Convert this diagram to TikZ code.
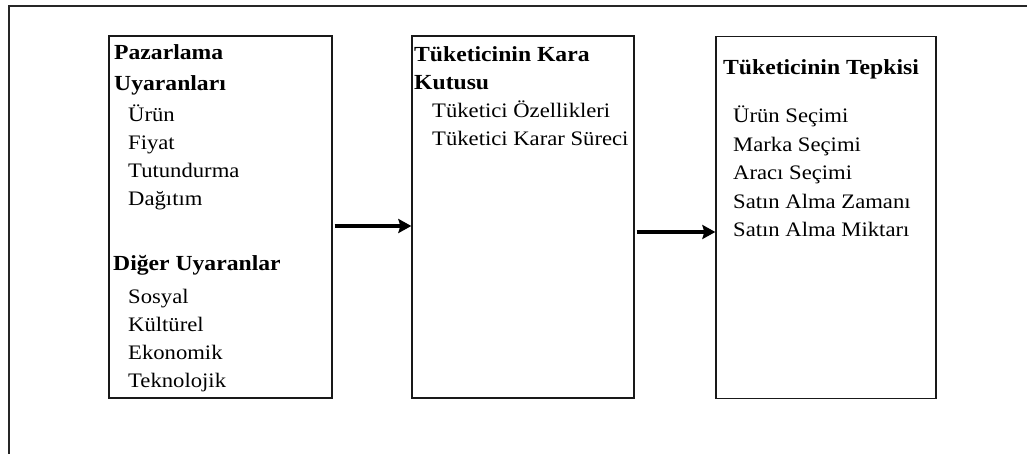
\documentclass[tikz,border=0pt]{standalone}
\usepackage{fontspec}
\setmainfont{Liberation Serif}[FakeStretch=1.1]
\usetikzlibrary{arrows.meta}
\tikzset{
  frame/.style={line width=1.5pt, black!85},
  box/.style={draw=black!90, line width=1.3pt, rectangle, inner sep=0pt},
  head/.style={anchor=base west, inner sep=0pt, font=\fontsize{21.5}{24}\selectfont\bfseries},
  item/.style={anchor=base west, inner sep=0pt, font=\fontsize{20.6}{24}\selectfont},
  arr/.style={line width=3.4pt, -{Stealth[length=13pt,width=14pt,inset=2pt]}},
}
\begin{document}
\begin{tikzpicture}[x=1pt, y=-1pt]
\useasboundingbox (0,0) rectangle (1027,454);
% outer frame (left and top edges)
\draw[frame] (9,454) -- (9,6) -- (1027,6);

% the three boxes
\node[box, minimum width=223pt, minimum height=362pt] (b1) at (220.5,217) {};
\node[box, minimum width=222pt, minimum height=362pt] (b2) at (523,217) {};
\node[box, minimum width=220pt, minimum height=362pt] (b3) at (826,217.5) {};

% stimuli
\node[head] (h11) at (114,59.5) {Pazarlama};
\node[head] (h12) at (114,91) {Uyaranları};
\node[item] (i11) at (128,121.5) {Ürün};
\node[item] (i12) at (128,149.8) {Fiyat};
\node[item] (i13) at (128,178) {Tutundurma};
\node[item] (i14) at (128,206) {Dağıtım};
\node[head] (h13) at (113,270) {Diğer Uyaranlar};
\node[item] (i15) at (128,303) {Sosyal};
\node[item] (i16) at (128,331.2) {Kültürel};
\node[item] (i17) at (128,359.4) {Ekonomik};
\node[item] (i18) at (128,387.5) {Teknolojik};

% black box
\node[head] (h21) at (414,61.5) {Tüketicinin Kara};
\node[head] (h22) at (414,90) {Kutusu};
\node[item] (i21) at (432,117.5) {Tüketici Özellikleri};
\node[item] (i22) at (432,145.5) {Tüketici Karar Süreci};

% response
\node[head] (h31) at (723,75) {Tüketicinin Tepkisi};
\node[item] (i31) at (733,123) {Ürün Seçimi};
\node[item] (i32) at (733,151.5) {Marka Seçimi};
\node[item] (i33) at (733,180) {Aracı Seçimi};
\node[item] (i34) at (733,208.3) {Satın Alma Zamanı};
\node[item] (i35) at (733,236.6) {Satın Alma Miktarı};

% arrows between the boxes
\draw[arr] ([xshift=2pt, yshift=-9pt]b1.east) -- ([yshift=-9pt]b2.west);
\draw[arr] ([xshift=2pt, yshift=-15pt]b2.east) -- ([yshift=-14.5pt]b3.west);
\end{tikzpicture}
\end{document}
